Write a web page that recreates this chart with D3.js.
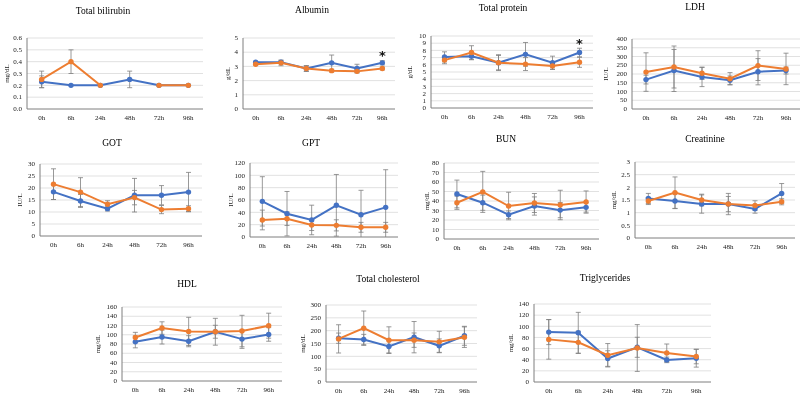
<!DOCTYPE html>
<html>
<head>
<meta charset="utf-8">
<script src="https://cdn.jsdelivr.net/npm/d3@7"></script>
<style>
  body { margin: 0; background: #fff; }
  svg { display: block; font-family: "Liberation Serif", "Times New Roman", serif; will-change: transform; }
</style>
</head>
<body>
<svg width="800" height="396"></svg>
<script>
const hours = ['0h', '6h', '24h', '48h', '72h', '96h'];

// Total bilirubin (mg/dL)
const tbilBlue = [0.23, 0.2, 0.2, 0.25, 0.2, 0.2];
const tbilBlueSd = [0.05, 0, 0, 0.07, 0, 0];
const tbilOrange = [0.25, 0.4, 0.2, null, 0.2, 0.2];
const tbilOrangeSd = [0.07, 0.1, 0, 0, 0, 0];
const tbilTicks = [0, 0.1, 0.2, 0.3, 0.4, 0.5, 0.6];

// Albumin (g/dL)
const albBlue = [3.3, 3.3, 2.85, 3.25, 2.85, 3.25];
const albBlueSd = [0.05, 0.1, 0.2, 0.55, 0.3, 0.15];
const albOrange = [3.15, 3.25, 2.85, 2.7, 2.65, 2.85];
const albOrangeSd = [0.05, 0.2, 0.2, 0.1, 0.1, 0.1];
const albTicks = [0, 1, 2, 3, 4, 5];

// Total protein (g/dL)
const tpBlue = [7.1, 7.2, 6.3, 7.45, 6.3, 7.7];
const tpBlueSd = [0.7, 0.5, 1.0, 1.65, 0.9, 0.6];
const tpOrange = [6.65, 7.7, 6.3, 6.1, 5.85, 6.35];
const tpOrangeSd = [0.5, 0.95, 1.1, 0.9, 0.5, 0.7];
const tpTicks = [0, 1, 2, 3, 4, 5, 6, 7, 8, 9, 10];

// LDH (IU/L)
const ldhBlue = [168, 220, 183, 164, 213, 220];
const ldhBlueSd = [25, 120, 55, 25, 75, 20];
const ldhOrange = [211, 240, 204, 173, 248, 229];
const ldhOrangeSd = [110, 120, 35, 35, 85, 90];
const ldhTicks = [0, 50, 100, 150, 200, 250, 300, 350, 400];

// GOT (IU/L)
const gotBlue = [18.4, 14.6, 11.4, 17.0, 17.0, 18.3];
const gotBlueSd = [3.2, 2.7, 1.0, 7.0, 4.0, 8.2];
const gotOrange = [21.6, 18.3, 13.2, 16.0, 11.0, 11.4];
const gotOrangeSd = [6.4, 6.0, 1.5, 3.0, 1.7, 1.2];
const gotTicks = [0, 5, 10, 15, 20, 25, 30];

// GPT (IU/L)
const gptBlue = [57.8, 37.8, 27.6, 51.4, 36.2, 48.1];
const gptBlueSd = [40, 36, 24, 50, 39.5, 61];
const gptOrange = [27.6, 29.7, 19.5, 18.9, 15.7, 15.7];
const gptOrangeSd = [16, 11, 9, 9, 8, 8];
const gptTicks = [0, 20, 40, 60, 80, 100, 120];

// BUN (mg/dL)
const bunBlue = [47.4, 38.2, 25.5, 34.7, 30.4, 33.3];
const bunBlueSd = [14.6, 8, 4, 9.6, 8, 5];
const bunOrange = [38.2, 49.6, 34.7, 37.9, 35.8, 38.9];
const bunOrangeSd = [7, 21.6, 14.5, 10, 15.5, 11.7];
const bunTicks = [0, 10, 20, 30, 40, 50, 60, 70, 80];

// Creatinine (mg/dL)
const creBlue = [1.56, 1.46, 1.34, 1.34, 1.15, 1.76];
const creBlueSd = [0.2, 0.3, 0.36, 0.42, 0.17, 0.39];
const creOrange = [1.46, 1.79, 1.5, 1.34, 1.28, 1.43];
const creOrangeSd = [0.14, 0.62, 0.23, 0.3, 0.19, 0.12];
const creTicks = [0, 0.5, 1, 1.5, 2, 2.5, 3];

// HDL (mg/dL)
const hdlBlue = [84.7, 95, 86, 106.5, 90.6, 100.7];
const hdlBlueSd = [13, 15, 12, 14, 20, 14.7];
const hdlOrange = [94.2, 114.5, 107.2, 106.5, 108, 119.6];
const hdlOrangeSd = [11, 13.5, 30.5, 29, 34, 27];
const hdlTicks = [0, 20, 40, 60, 80, 100, 120, 140, 160];

// Total cholesterol (mg/dL)
const tchoBlue = [170.7, 165.6, 138.4, 174.6, 141, 180];
const tchoBlueSd = [20, 20, 25, 61, 27, 37];
const tchoOrange = [168, 209.6, 163, 163, 156.5, 174.6];
const tchoOrangeSd = [55, 67, 52, 28, 41, 40];
const tchoTicks = [0, 50, 100, 150, 200, 250, 300];

// Triglycerides (mg/dL)
const tgBlue = [89.6, 88.4, 42.1, 62.3, 39.7, 42.7];
const tgBlueSd = [22.5, 36.6, 14, 18, 5, 16];
const tgOrange = [76.5, 71.2, 48, 61, 52.2, 45.7];
const tgOrangeSd = [35.5, 20, 21, 42, 16, 13];
const tgTicks = [0, 20, 40, 60, 80, 100, 120, 140];

const panels = [
  { title: 'Total bilirubin', unit: 'mg/dL', ticks: tbilTicks, fmt: d3.format('.1f'),
    blue: tbilBlue, blueSd: tbilBlueSd, orange: tbilOrange, orangeSd: tbilOrangeSd },
  { title: 'Albumin', unit: 'g/dL', ticks: albTicks,
    blue: albBlue, blueSd: albBlueSd, orange: albOrange, orangeSd: albOrangeSd, star: 5 },
  { title: 'Total protein', unit: 'g/dL', ticks: tpTicks,
    blue: tpBlue, blueSd: tpBlueSd, orange: tpOrange, orangeSd: tpOrangeSd, star: 5 },
  { title: 'LDH', unit: 'IU/L', ticks: ldhTicks,
    blue: ldhBlue, blueSd: ldhBlueSd, orange: ldhOrange, orangeSd: ldhOrangeSd },
  { title: 'GOT', unit: 'IU/L', ticks: gotTicks,
    blue: gotBlue, blueSd: gotBlueSd, orange: gotOrange, orangeSd: gotOrangeSd },
  { title: 'GPT', unit: 'IU/L', ticks: gptTicks,
    blue: gptBlue, blueSd: gptBlueSd, orange: gptOrange, orangeSd: gptOrangeSd },
  { title: 'BUN', unit: 'mg/dL', ticks: bunTicks,
    blue: bunBlue, blueSd: bunBlueSd, orange: bunOrange, orangeSd: bunOrangeSd },
  { title: 'Creatinine', unit: 'mg/dL', ticks: creTicks,
    blue: creBlue, blueSd: creBlueSd, orange: creOrange, orangeSd: creOrangeSd },
  { title: 'HDL', unit: 'mg/dL', ticks: hdlTicks,
    blue: hdlBlue, blueSd: hdlBlueSd, orange: hdlOrange, orangeSd: hdlOrangeSd },
  { title: 'Total cholesterol', unit: 'mg/dL', ticks: tchoTicks,
    blue: tchoBlue, blueSd: tchoBlueSd, orange: tchoOrange, orangeSd: tchoOrangeSd },
  { title: 'Triglycerides', unit: 'mg/dL', ticks: tgTicks,
    blue: tgBlue, blueSd: tgBlueSd, orange: tgOrange, orangeSd: tgOrangeSd }
];

// plot-area boxes: left, right, top, bottom, title centre, unit label x
const layout = [
  { l: 27, r: 203, t: 38, b: 109, tx: 103, ty: 11, ux: 7 },
  { l: 243, r: 395, t: 38, b: 109, tx: 312, ty: 10, ux: 228 },
  { l: 431, r: 593, t: 36, b: 108, tx: 503, ty: 8, ux: 410 },
  { l: 632, r: 800, t: 39, b: 109, tx: 695, ty: 7, ux: 606 },
  { l: 40, r: 202, t: 164, b: 236, tx: 112, ty: 143, ux: 20 },
  { l: 250, r: 398, t: 163, b: 237, tx: 311, ty: 143, ux: 231 },
  { l: 444, r: 599, t: 163, b: 239, tx: 506, ty: 139, ux: 427 },
  { l: 635, r: 795, t: 162, b: 238, tx: 705, ty: 139, ux: 614 },
  { l: 122, r: 282, t: 307, b: 381, tx: 187, ty: 284, ux: 98 },
  { l: 326, r: 477, t: 305, b: 382, tx: 388, ty: 279, ux: 303 },
  { l: 534, r: 711, t: 304, b: 382, tx: 605, ty: 278, ux: 511 }
];

const blueColor = '#4472c4';
const orangeColor = '#ed7d31';
const textColor = '#1a1a1a';
const svg = d3.select('svg');

panels.forEach((p, i) => {
  const box = layout[i];
  const g = svg.append('g');
  const x = d3.scalePoint().domain(hours).range([box.l, box.r]).padding(0.5);
  const yMax = d3.max(p.ticks);
  const y = d3.scaleLinear().domain([0, yMax]).range([box.b, box.t]);
  const fmt = p.fmt || (d => d);

  // gridlines
  g.selectAll('.grid').data(p.ticks.filter(d => d > 0))
    .enter().append('line')
      .attr('x1', box.l).attr('x2', box.r)
      .attr('y1', d => y(d)).attr('y2', d => y(d))
      .attr('stroke', '#d9d9d9').attr('stroke-width', 0.8);

  // axis lines
  g.append('line')
    .attr('x1', box.l).attr('x2', box.l).attr('y1', box.t).attr('y2', box.b)
    .attr('stroke', '#7f7f7f').attr('stroke-width', 1);
  g.append('line')
    .attr('x1', box.l).attr('x2', box.r).attr('y1', box.b).attr('y2', box.b)
    .attr('stroke', '#7f7f7f').attr('stroke-width', 1);

  // y tick labels
  g.selectAll('.ytick').data(p.ticks)
    .enter().append('text')
      .attr('x', box.l - 5).attr('y', d => y(d))
      .attr('dy', '0.32em').attr('text-anchor', 'end')
      .attr('font-size', 7).attr('fill', textColor)
      .text(fmt);

  // x tick labels
  g.selectAll('.xtick').data(hours)
    .enter().append('text')
      .attr('x', d => x(d)).attr('y', box.b + 9)
      .attr('dy', '0.32em').attr('text-anchor', 'middle')
      .attr('font-size', 7).attr('fill', textColor)
      .text(d => d);

  // unit label
  g.append('text')
    .attr('transform', `translate(${box.ux}, ${(box.t + box.b) / 2}) rotate(-90)`)
    .attr('text-anchor', 'middle').attr('dy', '0.32em')
    .attr('font-size', 7).attr('fill', textColor)
    .text(p.unit);

  // title
  g.append('text')
    .attr('x', box.tx).attr('y', box.ty).attr('dy', '0.35em')
    .attr('text-anchor', 'middle').attr('font-size', 9.5).attr('fill', '#000')
    .text(p.title);

  const clampY = v => y(Math.max(0, Math.min(yMax, v)));
  const series = [
    { mean: p.blue, sd: p.blueSd, color: blueColor },
    { mean: p.orange, sd: p.orangeSd, color: orangeColor }
  ];

  // error bars
  series.forEach(s => {
    const pts = hours.map((h, k) => ({ h, v: s.mean[k], e: s.sd[k] }))
      .filter(d => d.v != null && d.e > 0);
    const eg = g.append('g').attr('stroke', '#7f7f7f').attr('stroke-width', 0.8);
    eg.selectAll('.ev').data(pts).enter().append('line')
      .attr('x1', d => x(d.h)).attr('x2', d => x(d.h))
      .attr('y1', d => clampY(d.v - d.e)).attr('y2', d => clampY(d.v + d.e));
    eg.selectAll('.et').data(pts.filter(d => d.v + d.e <= yMax)).enter().append('line')
      .attr('x1', d => x(d.h) - 2.5).attr('x2', d => x(d.h) + 2.5)
      .attr('y1', d => y(d.v + d.e)).attr('y2', d => y(d.v + d.e));
    eg.selectAll('.eb').data(pts.filter(d => d.v - d.e >= 0)).enter().append('line')
      .attr('x1', d => x(d.h) - 2.5).attr('x2', d => x(d.h) + 2.5)
      .attr('y1', d => y(d.v - d.e)).attr('y2', d => y(d.v - d.e));
  });

  // lines and markers
  series.forEach(s => {
    const pts = hours.map((h, k) => ({ h, v: s.mean[k] }));
    const line = d3.line().defined(d => d.v != null)
      .x(d => x(d.h)).y(d => y(d.v));
    g.append('path').attr('d', line(pts))
      .attr('fill', 'none').attr('stroke', s.color).attr('stroke-width', 2);
    g.selectAll(null).data(pts.filter(d => d.v != null))
      .enter().append('circle')
        .attr('cx', d => x(d.h)).attr('cy', d => y(d.v)).attr('r', 2.7)
        .attr('fill', s.color);
  });

  if (p.star != null) {
    const k = p.star;
    const top = Math.max(p.blue[k] + p.blueSd[k], p.orange[k] + p.orangeSd[k]);
    g.append('text')
      .attr('x', x(hours[k])).attr('y', y(top) - 0.5)
      .attr('text-anchor', 'middle').attr('font-size', 13).attr('font-weight', 'bold')
      .attr('fill', '#111')
      .attr('font-family', '"DejaVu Sans", sans-serif')
      .text('*');
  }
});
</script>
</body>
</html>
